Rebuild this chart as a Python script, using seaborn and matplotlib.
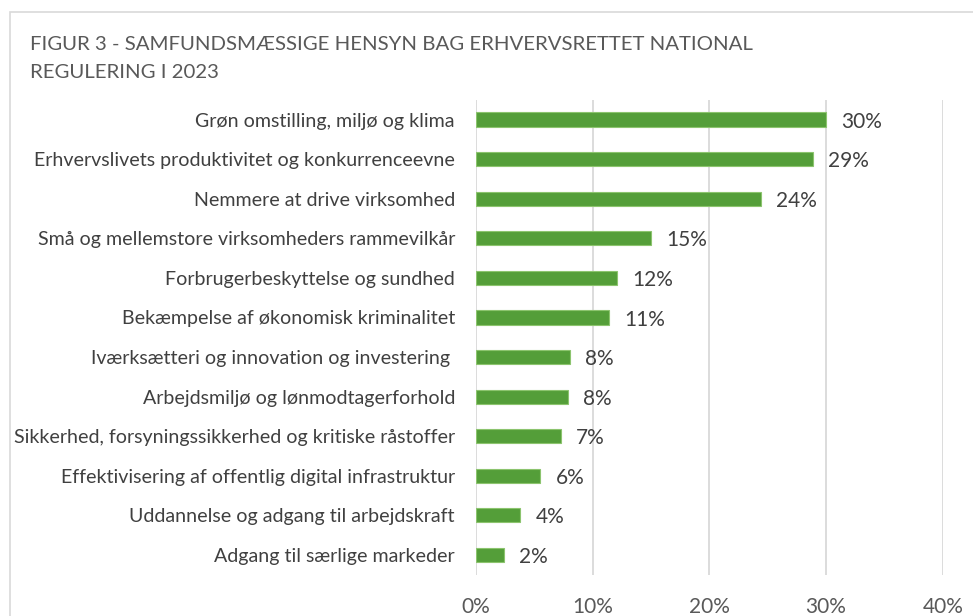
import matplotlib
matplotlib.use("Agg")
import matplotlib.pyplot as plt
import seaborn as sns
import pandas as pd
from matplotlib.patches import Rectangle

categories = [
    "Grøn omstilling, miljø og klima",
    "Erhvervslivets produktivitet og konkurrenceevne",
    "Nemmere at drive virksomhed",
    "Små og mellemstore virksomheders rammevilkår",
    "Forbrugerbeskyttelse og sundhed",
    "Bekæmpelse af økonomisk kriminalitet",
    "Iværksætteri og innovation og investering ",
    "Arbejdsmiljø og lønmodtagerforhold",
    "Sikkerhed, forsyningssikkerhed og kritiske råstoffer",
    "Effektivisering af offentlig digital infrastruktur",
    "Uddannelse og adgang til arbejdskraft",
    "Adgang til særlige markeder",
]
values = [30.0, 28.85, 24.4, 14.97, 12.1, 11.37, 8.03, 7.86, 7.29, 5.51, 3.8, 2.4]
value_labels = ["30%", "29%", "24%", "15%", "12%", "11%", "8%", "8%", "7%", "6%", "4%", "2%"]
x_ticks = [0, 10, 20, 30, 40]
x_tick_labels = ["0%", "10%", "20%", "30%", "40%"]
title = "FIGUR 3 - SAMFUNDSMÆSSIGE HENSYN BAG ERHVERVSRETTET NATIONAL\nREGULERING I 2023"

df = pd.DataFrame({"kategori": categories, "andel": values})

sns.set_theme(style="white")
plt.rcParams["font.family"] = ["Lato", "DejaVu Sans"]

fig = plt.figure(figsize=(9.73, 6.16), dpi=100)
ax = fig.add_axes([0.489, 0.067, 0.48, 0.771])

sns.barplot(data=df, y="kategori", x="andel", orient="h", ax=ax,
            color="#549E39", width=0.36, saturation=1,
            edgecolor="#8CC46E", linewidth=0.8, zorder=3)

ax.set_xlim(0, 40)
ax.set_ylim(11.5, -0.5)
ax.set_xticks(x_ticks)
ax.set_xticklabels(x_tick_labels, fontsize=15, color="#595959")
ax.set_xlabel("")
ax.set_ylabel("")
ax.tick_params(axis="y", length=0, pad=15, labelsize=14.15, labelcolor="#404040")
ax.tick_params(axis="x", length=0, pad=16)
ax.grid(axis="x", color="#D9D9D9", linewidth=1.3, zorder=0)
ax.grid(axis="y", visible=False)
for s in ax.spines.values():
    s.set_visible(False)

labels = ax.bar_label(ax.containers[0], labels=value_labels, padding=11,
                      fontsize=15, color="#404040")
for t in labels:
    x_off, _ = t.xyann
    t.xyann = (x_off, -1.5)

fig.text(30 / 973, 1 - 36 / 616, title, fontsize=14.7, color="#595959",
         ha="left", va="top", linespacing=1.78)

fig.patches.append(Rectangle((10 / 973, -0.1), 1.2, 1 - 12 / 616 + 0.1,
                             transform=fig.transFigure, fill=False,
                             edgecolor="#D9D9D9", linewidth=1.2))

fig.savefig("out.png", dpi=100, facecolor="white")
